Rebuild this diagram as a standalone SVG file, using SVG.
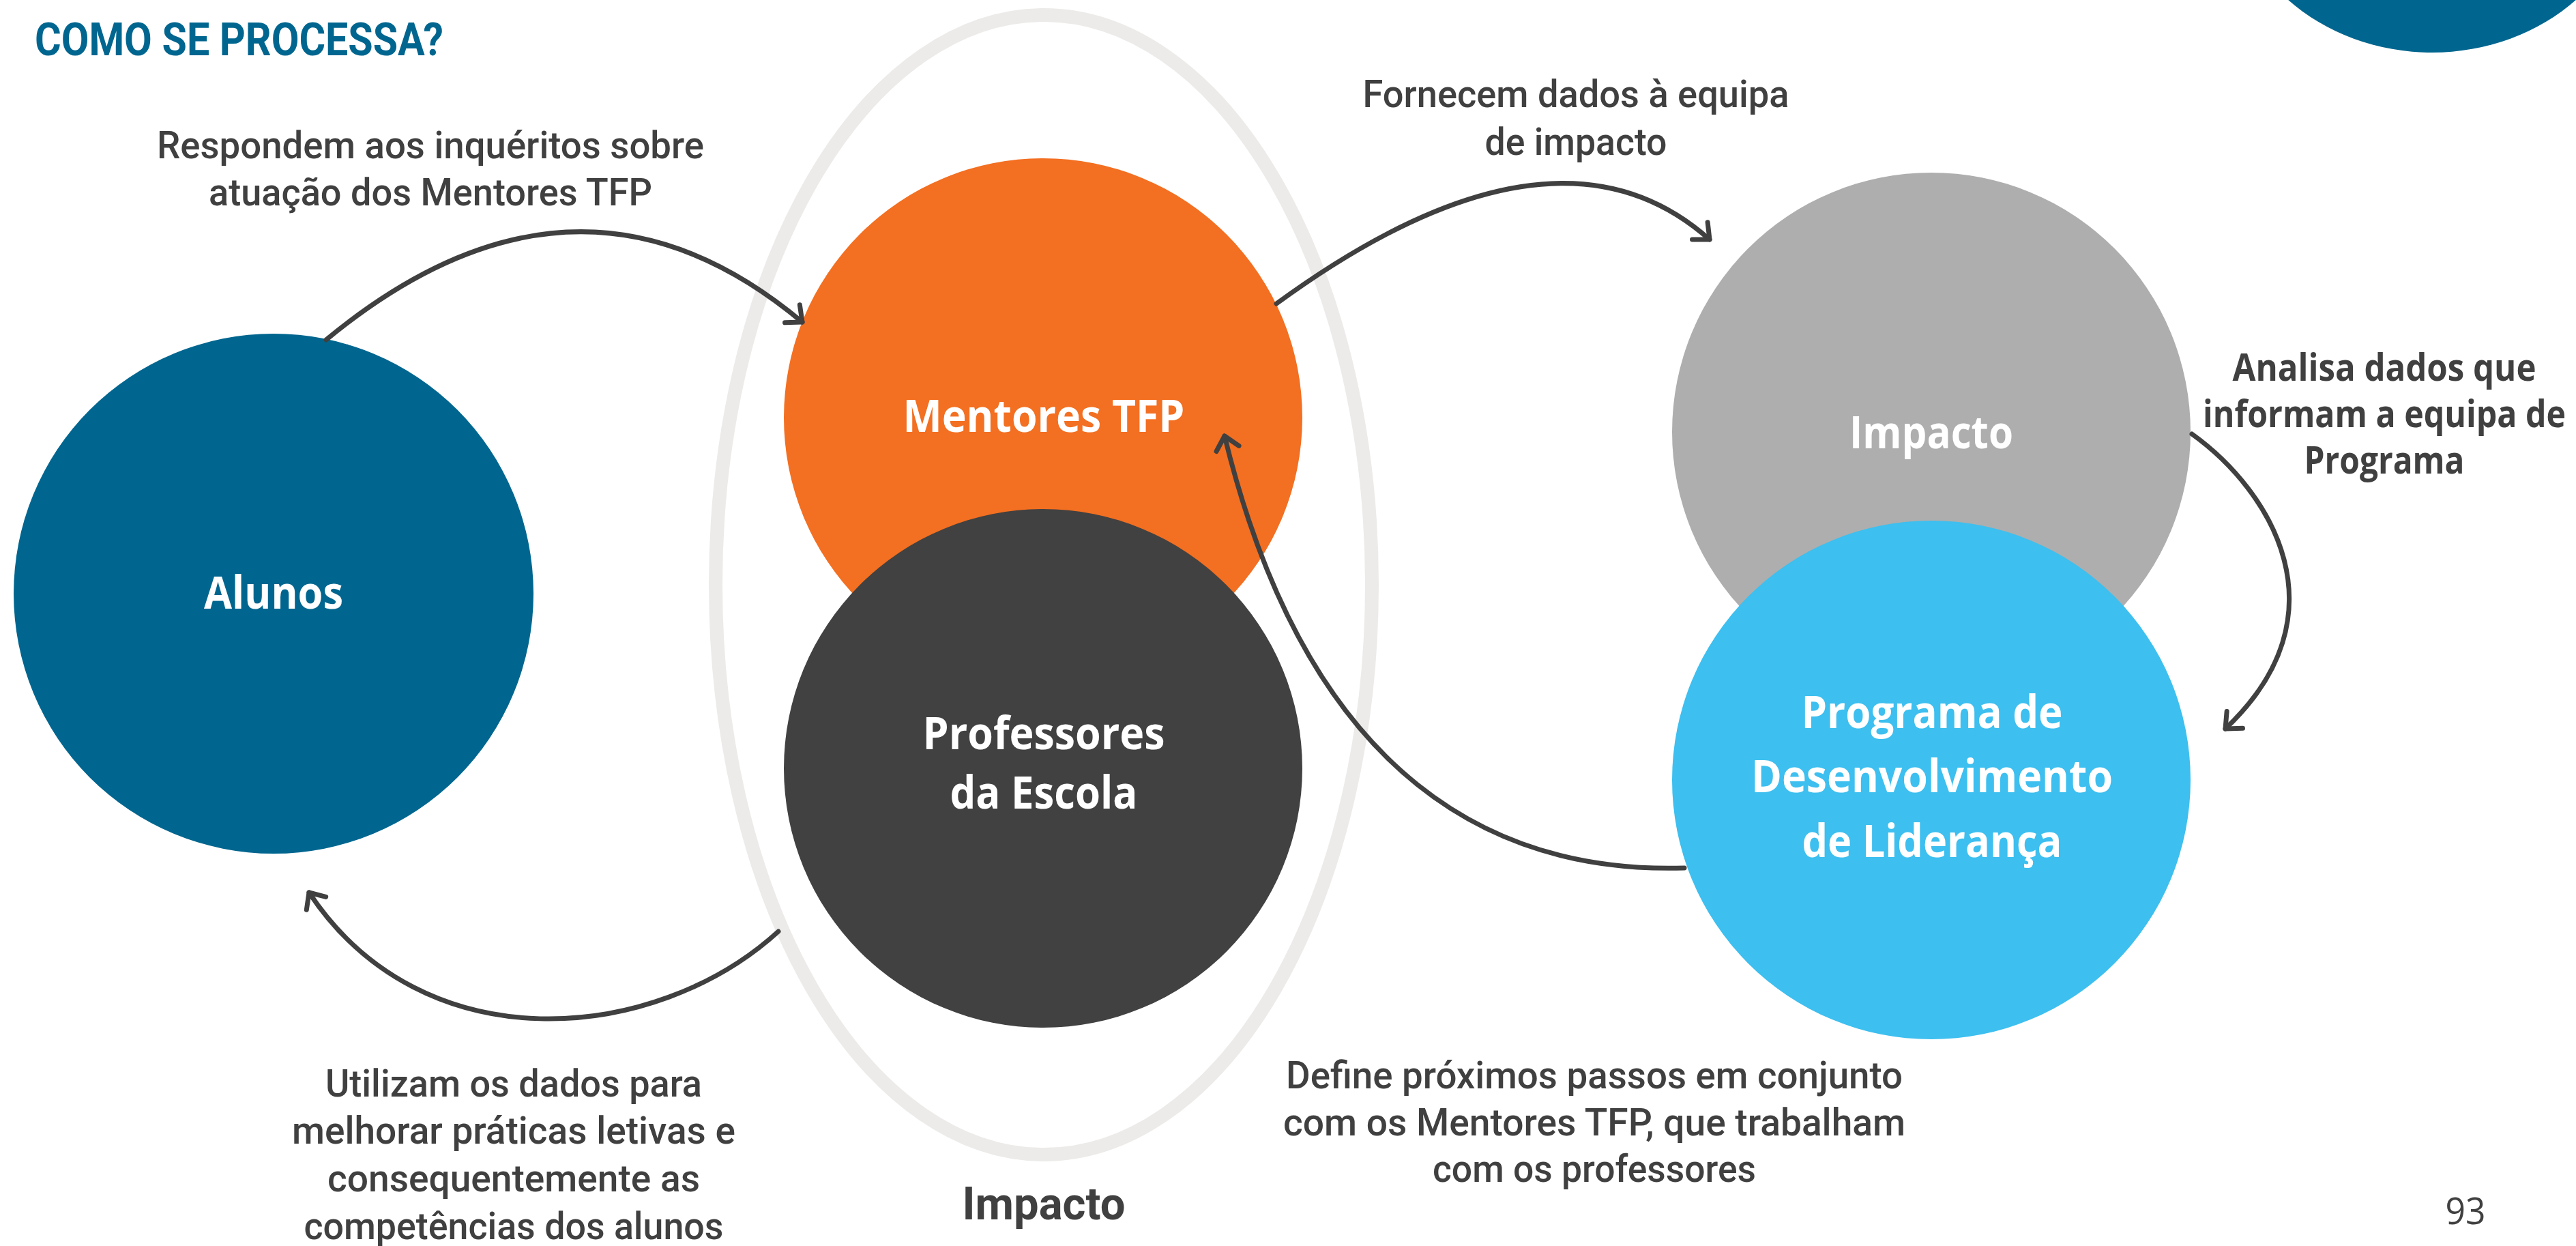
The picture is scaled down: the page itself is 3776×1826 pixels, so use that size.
<svg xmlns="http://www.w3.org/2000/svg" width="3776" height="1826" viewBox="0 0 3776 1826">
<style>
.lbl{font-family:"Roboto","Liberation Sans",sans-serif;font-weight:500;font-size:56px;fill:#404040;text-anchor:middle}
.wide{font-family:"Open Sans","Liberation Sans",sans-serif;font-weight:700;font-size:55px;fill:#404040;text-anchor:middle}
.node{font-family:"Open Sans","Liberation Sans",sans-serif;font-weight:700;font-size:67px;fill:#ffffff;text-anchor:middle}
.conn{fill:none;stroke:#404040;stroke-width:7;stroke-linecap:round;marker-end:url(#arr)}
</style>
<defs>
<marker id="arr" markerUnits="userSpaceOnUse" viewBox="-30 -25 40 50" markerWidth="40" markerHeight="50" refX="0" refY="0" orient="auto">
<path d="M-19 -17 L0 0 L-19 17" fill="none" stroke="#404040" stroke-width="7" stroke-linecap="round" stroke-linejoin="round"/>
</marker>
</defs>
<rect width="3776" height="1826" fill="#ffffff"/>
<ellipse cx="3565" cy="-190" rx="300" ry="267" fill="#00668F"/>
<text x="51" y="81" textLength="599" lengthAdjust="spacingAndGlyphs" style="font-family:'Roboto','Liberation Sans',sans-serif;font-weight:700;font-size:66px;fill:#00668F">COMO SE PROCESSA?</text>

<g id="impacto-group">
<ellipse cx="1530" cy="857" rx="481" ry="835" fill="none" stroke="#ECEBE9" stroke-width="20"/>
<text x="1530" y="1787" class="lbl" style="font-weight:700;font-size:66px" textLength="239" lengthAdjust="spacingAndGlyphs">Impacto</text>
</g>

<g id="alunos">
<circle cx="401" cy="870" r="381" fill="#00668F"/>
<text x="401" y="892" class="node" textLength="204" lengthAdjust="spacingAndGlyphs">Alunos</text>
</g>

<g id="mentores">
<circle cx="1529" cy="612" r="380" fill="#F36F21"/>
<text x="1530" y="633" class="node" textLength="413" lengthAdjust="spacingAndGlyphs">Mentores TFP</text>
</g>

<g id="professores">
<circle cx="1529" cy="1126" r="380" fill="#414141"/>
<text x="1530" y="1098" class="node" textLength="355" lengthAdjust="spacingAndGlyphs">Professores</text>
<text x="1530" y="1185" class="node" textLength="275" lengthAdjust="spacingAndGlyphs">da Escola</text>
</g>

<g id="impacto">
<circle cx="2831" cy="633" r="380" fill="#AEAEAE"/>
<text x="2831" y="657" class="node" textLength="240" lengthAdjust="spacingAndGlyphs">Impacto</text>
</g>

<g id="programa">
<circle cx="2831" cy="1143" r="380" fill="#3DBFEF"/>
<text x="2832" y="1067" class="node" textLength="383" lengthAdjust="spacingAndGlyphs">Programa de</text>
<text x="2832" y="1161" class="node" textLength="530" lengthAdjust="spacingAndGlyphs">Desenvolvimento</text>
<text x="2832" y="1256" class="node" textLength="381" lengthAdjust="spacingAndGlyphs">de Liderança</text>
</g>

<g id="connectors">
<path class="conn" d="M478 498 Q845 195 1176 472"/>
<path class="conn" d="M1871 445 Q2278 148 2506 351"/>
<path class="conn" d="M3213 636 C3330 720 3440 900 3262 1068"/>
<path class="conn" d="M2469 1272 C2200 1280 1920 1150 1795 639"/>
<path class="conn" d="M1141 1365 C960 1530 620 1560 453 1308"/>
</g>

<g id="labels">
<text x="631" y="232" class="lbl" textLength="802" lengthAdjust="spacingAndGlyphs">Respondem aos inquéritos sobre</text>
<text x="631" y="301" class="lbl" textLength="650" lengthAdjust="spacingAndGlyphs">atuação dos Mentores TFP</text>

<text x="2310" y="157" class="lbl" textLength="625" lengthAdjust="spacingAndGlyphs">Fornecem dados à equipa</text>
<text x="2310" y="227" class="lbl" textLength="267" lengthAdjust="spacingAndGlyphs">de impacto</text>

<text x="3495" y="558" class="wide" textLength="445" lengthAdjust="spacingAndGlyphs">Analisa dados que</text>
<text x="3495" y="626" class="wide" textLength="532" lengthAdjust="spacingAndGlyphs">informam a equipa de</text>
<text x="3495" y="694" class="wide" textLength="235" lengthAdjust="spacingAndGlyphs">Programa</text>

<text x="2337" y="1595" class="lbl" textLength="904" lengthAdjust="spacingAndGlyphs">Define próximos passos em conjunto</text>
<text x="2337" y="1664" class="lbl" textLength="912" lengthAdjust="spacingAndGlyphs">com os Mentores TFP, que trabalham</text>
<text x="2337" y="1732" class="lbl" textLength="474" lengthAdjust="spacingAndGlyphs">com os professores</text>

<text x="753" y="1607" class="lbl" textLength="552" lengthAdjust="spacingAndGlyphs">Utilizam os dados para</text>
<text x="753" y="1676" class="lbl" textLength="650" lengthAdjust="spacingAndGlyphs">melhorar práticas letivas e</text>
<text x="753" y="1746" class="lbl" textLength="546" lengthAdjust="spacingAndGlyphs">consequentemente as</text>
<text x="753" y="1816" class="lbl" textLength="615" lengthAdjust="spacingAndGlyphs">competências dos alunos</text>

<text x="3614" y="1794" style="font-family:'Open Sans','Liberation Sans',sans-serif;font-weight:400;font-size:54px;fill:#404040;text-anchor:middle" textLength="59" lengthAdjust="spacingAndGlyphs">93</text>
</g>
</svg>
